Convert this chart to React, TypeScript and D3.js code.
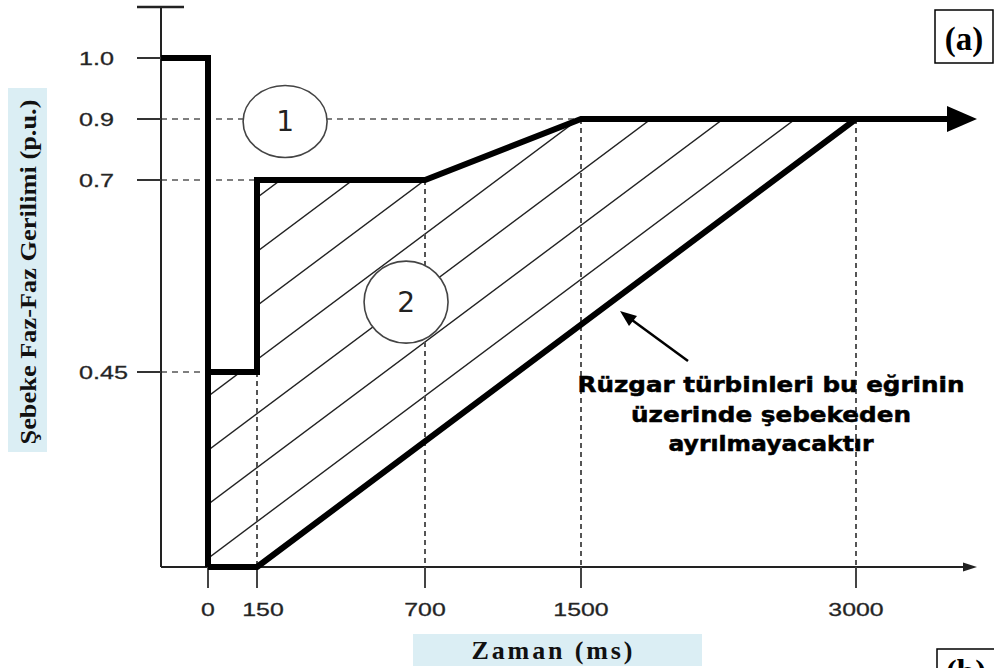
import React from "react";
import * as d3 from "d3";

// breakpoints of the (non-uniform) axes
const timeBreaks = [-150, 0, 150, 700, 1500, 3000, 3650];
const voltBreaks = [0, 0.45, 0.7, 0.9, 1.0, 1.1];

const xTicks = [0, 150, 700, 1500, 3000];
const xTickLabels = ["0", "150", "700", "1500", "3000"];
const yTicks = [1.0, 0.9, 0.7, 0.45];
const yTickLabels = ["1.0", "0.9", "0.7", "0.45"];

// pre-fault voltage, then the drop
const preFaultTime = [-150, 0, 0];
const preFaultVolt = [1.0, 1.0, 0];
// lower limit curve
const lowerTime = [0, 150, 3000];
const lowerVolt = [0, 0, 0.9];
// upper limit curve
const upperTime = [0, 150, 150, 700, 1500, 3000];
const upperVolt = [0.45, 0.45, 0.7, 0.7, 0.9, 0.9];

// dashed guides
const guideHTime = [1500, 150, 0];
const guideHVolt = [0.9, 0.7, 0.45];
const guideVTime = [150, 700, 1500, 3000];
const guideVVolt = [0.45, 0.7, 0.9, 0.9];

const zoneLabels = ["1", "2"];
const zoneTime = [242, 638];
const zoneVolt = [0.892, 0.541];

const noteLines = ["Rüzgar türbinleri bu eğrinin", "üzerinde şebekeden", "ayrılmayacaktır"];
const noteWidths = [387, 280, 205];

const W = 994;
const H = 668;

export default function App() {
  const x = d3.scaleLinear().domain(timeBreaks).range([161, 208, 257, 425, 581, 856, 977]);
  const y = d3.scaleLinear().domain(voltBreaks).range([567, 372, 180, 119, 58, 7]);

  const line = d3
    .line<[number, number]>()
    .x((d) => x(d[0]))
    .y((d) => y(d[1]));

  const zip = (t: number[], v: number[]) => t.map((d, i) => [d, v[i]] as [number, number]);

  const arrowTip = x(3650);
  const upperPts = zip(upperTime, upperVolt);
  const upperPath = line(upperPts) + `L${arrowTip - 26},${y(0.9)}`;

  // hatched region
  const region = zip(
    [0, 150, 150, 700, 1500, 3000, 150, 0],
    [0.45, 0.45, 0.7, 0.7, 0.9, 0.9, 0, 0]
  );
  const slope = (y(0) - y(0.9)) / (x(3000) - x(150));
  const ax = x(700);
  const ay = y(0.7);
  const hatch = d3.range(-12, 13).map((k) => {
    const x1 = 150;
    const x2 = 950;
    const c = ay + k * 54;
    return { x1, y1: c - slope * (x1 - ax), x2, y2: c - slope * (x2 - ax) };
  });

  const axisX = x(-150);
  const axisY = y(0);

  return (
    <svg
      width={W}
      height={H}
      style={{ position: "absolute", left: 0, top: 0, background: "#fff" }}
    >
      <defs>
        <clipPath id="zone">
          <path d={line(region) + "Z"} />
        </clipPath>
      </defs>

      {/* hatch */}
      <g clipPath="url(#zone)">
        {hatch.map((h, i) => (
          <line key={i} x1={h.x1} y1={h.y1} x2={h.x2} y2={h.y2} stroke="#222" strokeWidth={1.4} />
        ))}
      </g>

      {/* dashed guides */}
      {guideHTime.map((t, i) => (
        <line
          key={"gh" + i}
          x1={axisX}
          x2={x(t)}
          y1={y(guideHVolt[i])}
          y2={y(guideHVolt[i])}
          stroke="#555"
          strokeWidth={1.6}
          strokeDasharray="6,5"
        />
      ))}
      {guideVTime.map((t, i) => (
        <line
          key={"gv" + i}
          x1={x(t)}
          x2={x(t)}
          y1={y(guideVVolt[i])}
          y2={axisY}
          stroke="#555"
          strokeWidth={2}
          strokeDasharray="5,4"
        />
      ))}

      {/* axes */}
      <line x1={axisX} x2={axisX} y1={y(1.1)} y2={axisY} stroke="#222" strokeWidth={2} />
      <line x1={137} x2={184} y1={y(1.1)} y2={y(1.1)} stroke="#222" strokeWidth={2.5} />
      <line x1={axisX} x2={arrowTip - 8} y1={axisY} y2={axisY} stroke="#222" strokeWidth={2} />
      <path
        d={`M${arrowTip},${axisY}L${arrowTip - 14},${axisY - 4.5}L${arrowTip - 14},${axisY + 4.5}Z`}
        fill="#222"
      />
      {yTicks.map((v, i) => (
        <g key={"yt" + i}>
          <line x1={137} x2={axisX} y1={y(v)} y2={y(v)} stroke="#333" strokeWidth={2} />
          <text
            transform={`translate(79,${y(v) + 6.5}) scale(1.4,1)`}
            fontFamily="Liberation Sans, Arial, sans-serif"
            fontSize={18}
            stroke="#333"
            strokeWidth={0.3}
            fill="#222"
          >
            {yTickLabels[i]}
          </text>
        </g>
      ))}
      {xTicks.map((t, i) => (
        <g key={"xt" + i}>
          <line x1={x(t)} x2={x(t)} y1={axisY} y2={axisY + 21} stroke="#444" strokeWidth={2} />
          <text
            transform={`translate(${x(t) + (t === 150 ? 6 : 0)},616) scale(1.38,1)`}
            textAnchor="middle"
            fontFamily="Liberation Sans, Arial, sans-serif"
            fontSize={18}
            stroke="#333"
            strokeWidth={0.3}
            fill="#222"
          >
            {xTickLabels[i]}
          </text>
        </g>
      ))}

      {/* limit curves */}
      <path d={line(zip(preFaultTime, preFaultVolt)) ?? ""} fill="none" stroke="#000" strokeWidth={6} />
      <path d={line(zip(lowerTime, lowerVolt)) ?? ""} fill="none" stroke="#000" strokeWidth={6} strokeLinejoin="round" />
      <path d={upperPath} fill="none" stroke="#000" strokeWidth={6} />
      <path
        d={`M${arrowTip},${y(0.9)}L${arrowTip - 30},${y(0.9) - 13}L${arrowTip - 30},${y(0.9) + 13}Z`}
        fill="#000"
      />

      {/* zone markers */}
      {zoneLabels.map((lab, i) => (
        <g key={"z" + i} transform={`translate(${x(zoneTime[i])},${y(zoneVolt[i])})`}>
          <ellipse rx={42} ry={i === 0 ? 36 : 41} fill="#fff" stroke="#444" strokeWidth={1.6} />
          <text
            y={10}
            textAnchor="middle"
            fontFamily="DejaVu Sans, sans-serif"
            fontSize={28}
            fill="#222"
          >
            {lab}
          </text>
        </g>
      ))}

      {/* note with pointer */}
      <line x1={688} y1={361} x2={632} y2={320} stroke="#000" strokeWidth={2.5} />
      <path d="M620,311L637,316L629,326Z" fill="#000" />
      {noteLines.map((s, i) => (
        <text
          key={"n" + i}
          x={771}
          y={392 + i * 29.5}
          textAnchor="middle"
          textLength={noteWidths[i]}
          lengthAdjust="spacingAndGlyphs"
          fontFamily="DejaVu Sans, sans-serif"
          fontWeight="bold"
          fontSize={21}
          stroke="#000"
          strokeWidth={0.5}
          fill="#000"
        >
          {s}
        </text>
      ))}

      {/* axis titles */}
      <rect x={8} y={88} width={39} height={364} fill="#dbeef4" />
      <text
        transform="translate(36,272) rotate(-90)"
        textAnchor="middle"
        textLength={345}
        lengthAdjust="spacingAndGlyphs"
        fontFamily="Liberation Serif, Times New Roman, serif"
        fontWeight="bold"
        fontSize={24}
        fill="#111"
      >
        Şebeke Faz-Faz Gerilimi (p.u.)
      </text>
      <rect x={413} y={634} width={289} height={32} fill="#dbeef4" />
      <text
        x={552}
        y={659}
        textAnchor="middle"
        textLength={161}
        lengthAdjust="spacing"
        fontFamily="Liberation Serif, Times New Roman, serif"
        fontWeight="bold"
        fontSize={26}
        fill="#111"
      >
        Zaman (ms)
      </text>

      {/* panel tags */}
      <rect x={935} y={10} width={58} height={53} fill="#fff" stroke="#000" strokeWidth={1.5} />
      <text
        x={964}
        y={50}
        textAnchor="middle"
        fontFamily="Liberation Serif, Times New Roman, serif"
        fontWeight="bold"
        fontSize={33}
        fill="#000"
      >
        (a)
      </text>
      <rect x={937} y={649} width={60} height={50} fill="#fff" stroke="#000" strokeWidth={1.5} />
      <text
        x={966}
        y={683}
        textAnchor="middle"
        fontFamily="Liberation Serif, Times New Roman, serif"
        fontWeight="bold"
        fontSize={33}
        fill="#000"
      >
        (b)
      </text>
    </svg>
  );
}
